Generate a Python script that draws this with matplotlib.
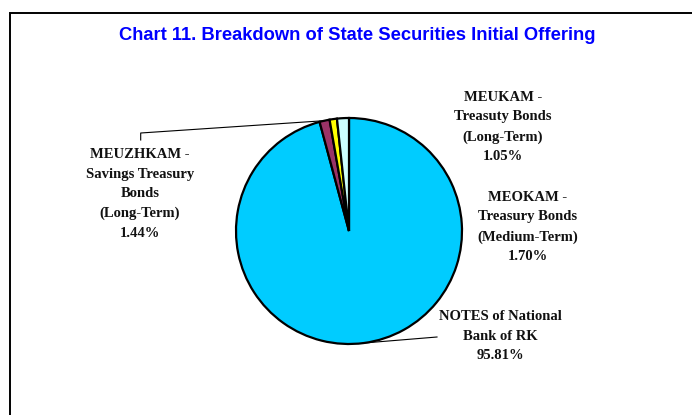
import matplotlib
matplotlib.use("Agg")
import matplotlib.pyplot as plt
from matplotlib.patches import Rectangle
import numpy as np

# data
labels = [
    "NOTES of National\nBank of RK\n95.81%",
    "MEUZHKAM -\nSavings Treasury\nBonds\n(Long-Term)\n1.44%",
    "MEUKAM -\nTreasuty Bonds\n(Long-Term)\n1.05%",
    "MEOKAM -\nTreasury Bonds\n(Medium-Term)\n1.70%",
]
shares = [95.81, 1.44, 1.05, 1.70]
colors = ["#00CCFF", "#993366", "#FFFF00", "#CCFFFF"]

W, H = 692, 415
fig = plt.figure(figsize=(W / 100, H / 100), dpi=100)
ax = fig.add_axes([0, 0, 1, 1])

cx, cy, r = 349, H - 231, 113
wedges, _ = ax.pie(shares, colors=colors, startangle=90, counterclock=False,
                   center=(cx, cy), radius=r,
                   wedgeprops=dict(edgecolor="black", linewidth=1.6))
ax.set_xlim(0, W)
ax.set_ylim(0, H)
ax.set_aspect("equal")
ax.axis("off")

# chart frame (runs off the right and bottom edges)
ax.add_patch(Rectangle((9.7, -20), W + 40, H - 12.7 + 20, fill=False,
                       edgecolor="black", linewidth=1.4, clip_on=False))

fig.text(357 / W, 1 - 36 / H,
         "Chart 11. Breakdown of State Securities Initial Offering",
         ha="center", va="center", color="#0000FF", fontsize=13.2,
         fontweight="bold", family="Liberation Sans")

lab_font = dict(family="Liberation Serif", fontweight="bold", fontsize=10.5,
                ha="center", va="center", linespacing=1.66, color="#111111")
label_pos = [(500, H - 336), (140, H - 194), (503, H - 127), (528, H - 227)]
for txt, (lx, ly) in zip(labels, label_pos):
    ax.text(lx, ly, txt, **lab_font)


def edge_point(w):
    a = np.deg2rad((w.theta1 + w.theta2) / 2)
    return cx + r * np.cos(a), cy + r * np.sin(a)


# leader lines
ex, ey = edge_point(wedges[1])
ax.plot([140.7, 140.7, ex], [H - 140, H - 133, ey], color="black", lw=0.8)
ex, ey = edge_point(wedges[0])
ax.plot([437, ex], [H - 337, ey], color="black", lw=0.8)

fig.savefig("out.png", dpi=100)
